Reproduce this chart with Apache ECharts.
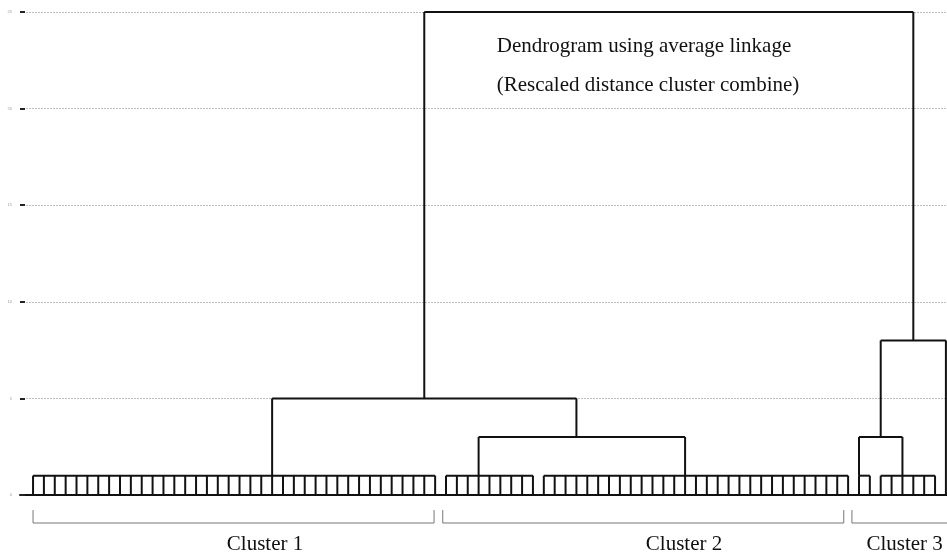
<!DOCTYPE html>
<html>
<head>
<meta charset="utf-8">
<script src="https://cdn.jsdelivr.net/npm/echarts@6/dist/echarts.min.js"></script>
<style>html,body{margin:0;padding:0;background:#fff}#c{width:947px;height:554px}</style>
</head>
<body>
<div id="c"></div>
<script>
// ---- data ----
// leaf groups (leaf slots along the x axis, 85 leaves in total)
const leafGroupName  = ['G1', 'G2a', 'G2b', 'G3a', 'G3b', 'S85'];
const leafGroupStart = [0, 38, 47, 76, 78, 84];
const leafGroupSize  = [38, 9, 29, 2, 6, 1];
const leafGroupJoin  = [22, 41, 60, 76, 80, 84];   // leaf where the group's branch rises
const leafCombHeight = 1;                           // rescaled distance of first combine

// merges (rescaled distance, 0-25)
const mergeName   = ['C2', 'C3a', 'C12', 'C3', 'Root'];
const mergeLeft   = ['G2a', 'G3a', 'G1', 'C3a', 'C12'];
const mergeRight  = ['G2b', 'G3b', 'C2', 'S85', 'C3'];
const mergeHeight = [3, 3, 5, 8, 25];
const mergeJoin   = [50, 78, 36, 81, 58];

// cluster brackets and labels
const clusterLabels = ['Cluster 1', 'Cluster 2', 'Cluster 3'];
const clusterFrom   = [0, 37.7, 75.35];
const clusterTo     = [36.9, 74.6, 112];
const clusterLabelX = [21.35, 59.9, 80.2];

// y axis ticks
const yTicks = [0, 5, 10, 15, 20, 25];

const titleLines = ['Dendrogram using average linkage', '(Rescaled distance cluster combine)'];

// ---- build segments ----
const segments = [];
const nodes = {};
leafGroupName.forEach((name, i) => {
  const s = leafGroupStart[i], n = leafGroupSize[i];
  if (n > 1) {
    segments.push([s, leafCombHeight, s + n - 1, leafCombHeight]);
    for (let k = 0; k < n; k++) segments.push([s + k, 0, s + k, leafCombHeight]);
    nodes[name] = { x: leafGroupJoin[i], h: leafCombHeight };
  } else {
    nodes[name] = { x: leafGroupJoin[i], h: 0 };
  }
});
mergeName.forEach((name, j) => {
  const L = nodes[mergeLeft[j]], R = nodes[mergeRight[j]], h = mergeHeight[j];
  segments.push([L.x, L.h, L.x, h]);
  segments.push([R.x, R.h, R.x, h]);
  segments.push([L.x, h, R.x, h]);
  nodes[name] = { x: mergeJoin[j], h: h };
});

const bracketTop = -0.78, bracketBottom = -1.45, labelY = -2.55;
const bracketData = clusterFrom.map((f, i) => [f, clusterTo[i]]);
const labelData = clusterLabelX.map((x) => [x, labelY]);

const FONT = '21px "Liberation Serif", "Times New Roman", serif';

const chart = echarts.init(document.getElementById('c'), null, { renderer: 'canvas' });
chart.setOption({
  animation: false,
  backgroundColor: '#fff',
  grid: { left: 20, right: 0, top: 12, bottom: 59, containLabel: false },
  xAxis: {
    type: 'value', min: -1.2, max: 84.1,
    axisLine: { show: true, onZero: false, lineStyle: { color: '#111', width: 2 } },
    axisTick: { show: false }, axisLabel: { show: false }, splitLine: { show: false }
  },
  yAxis: {
    type: 'value', min: yTicks[0], max: yTicks[yTicks.length - 1], interval: yTicks[1] - yTicks[0],
    axisLine: { show: false, onZero: false },
    axisTick: { show: true, inside: true, length: 5, lineStyle: { color: '#222', width: 2 } },
    axisLabel: { show: true, fontSize: 4, color: '#999', margin: 8 },
    splitLine: { show: true, lineStyle: { color: '#c0c0c0', width: 1, type: [2, 1] } }
  },
  graphic: [
    { type: 'text', x: 644, y: 46, style: { text: titleLines[0], font: FONT, fill: '#111', textAlign: 'center', textVerticalAlign: 'middle' } },
    { type: 'text', x: 648, y: 85, style: { text: titleLines[1], font: FONT, fill: '#111', textAlign: 'center', textVerticalAlign: 'middle' } }
  ],
  series: [
    {
      type: 'custom', name: 'dendrogram', clip: false,
      encode: { x: [0, 2], y: [1, 3] },
      data: segments,
      renderItem: function (params, api) {
        const p1 = api.coord([api.value(0), api.value(1)]);
        const p2 = api.coord([api.value(2), api.value(3)]);
        return { type: 'line', shape: { x1: p1[0], y1: p1[1], x2: p2[0], y2: p2[1] }, style: { stroke: '#111', lineWidth: 2 } };
      }
    },
    {
      type: 'custom', name: 'brackets', clip: false,
      encode: { x: [0, 1] },
      data: bracketData,
      renderItem: function (params, api) {
        const a = api.coord([api.value(0), bracketTop]);
        const b = api.coord([api.value(0), bracketBottom]);
        const c = api.coord([api.value(1), bracketBottom]);
        const d = api.coord([api.value(1), bracketTop]);
        return { type: 'polyline', shape: { points: [a, b, c, d] }, style: { stroke: '#777', lineWidth: 1, fill: null } };
      }
    },
    {
      type: 'custom', name: 'labels', clip: false,
      encode: { x: 0, y: 1 },
      data: labelData,
      renderItem: function (params, api) {
        const p = api.coord([api.value(0), api.value(1)]);
        return { type: 'text', x: p[0], y: p[1], style: { text: clusterLabels[params.dataIndex], font: FONT, fill: '#111', textAlign: 'center', textVerticalAlign: 'middle' } };
      }
    }
  ]
});
</script>
</body>
</html>
